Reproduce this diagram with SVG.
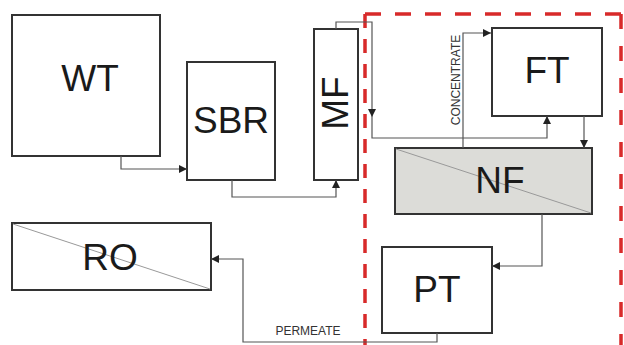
<svg xmlns="http://www.w3.org/2000/svg" width="624" height="345" viewBox="0 0 624 345">
<defs>
<marker id="ah" viewBox="0 0 10 10" refX="10" refY="5" markerWidth="8" markerHeight="8" markerUnits="userSpaceOnUse" orient="auto">
<path d="M0,0 L10,5 L0,10 z" fill="#222"/>
</marker>
<style>
.box{fill:#fff;stroke:#333;stroke-width:2}
.gray{fill:#dcdcd8;stroke:#333;stroke-width:2}
.diag{stroke:#999;stroke-width:1;fill:none}
.lbl{font-family:"Liberation Sans",Arial,sans-serif;fill:#1a1a1a;text-anchor:middle}
.big{font-size:37px}
.small{font-size:12px;fill:#333}
.conn{fill:none;stroke:#555;stroke-width:1.2}
.red{fill:none;stroke:#d82a2a;stroke-width:3.5}
</style>
</defs>
<rect width="624" height="345" fill="#fff"/>
<g id="boundary">
<path class="red" d="M365,14 H621" stroke-dasharray="16,14"/>
<path class="red" d="M365,14 V346" stroke-dasharray="14,11"/>
<path class="red" d="M621,14 V346" stroke-dasharray="15,17"/>
</g>
<g id="node-WT"><rect class="box" x="12" y="15" width="148" height="141"/><text class="lbl big" x="90" y="91" font-size="39">WT</text></g>
<g id="node-SBR"><rect class="box" x="187" y="62" width="88" height="118"/><text class="lbl big" x="231" y="133">SBR</text></g>
<g id="node-MF"><rect class="box" x="314" y="29" width="44" height="151"/><text class="lbl big" transform="translate(348,103) rotate(-90)" x="0" y="0">MF</text></g>
<g id="node-FT"><rect class="box" x="492" y="28" width="110" height="88"/><text class="lbl big" x="547" y="83">FT</text></g>
<g id="node-NF"><rect class="gray" x="395" y="148" width="197" height="66"/><line class="diag" x1="396" y1="149" x2="591" y2="213"/><text class="lbl big" x="500" y="193">NF</text></g>
<g id="node-PT"><rect class="box" x="382" y="247" width="110" height="86"/><text class="lbl big" x="437" y="302">PT</text></g>
<g id="node-RO"><rect class="box" x="12" y="223" width="199" height="67"/><line class="diag" x1="13" y1="224" x2="210" y2="289"/><text class="lbl big" x="110" y="270">RO</text></g>
<g id="connectors">
<path class="conn" d="M121,156 V169 H187" marker-end="url(#ah)"/>
<path class="conn" d="M232,180 V197 H336 V180" marker-end="url(#ah)"/>
<path class="conn" d="M336,29 V22 H372 V117" marker-end="url(#ah)"/>
<path class="conn" d="M372,117 V138 H547 V116" marker-end="url(#ah)"/>
<path class="conn" d="M463,148 V33 H491" marker-end="url(#ah)"/>
<path class="conn" d="M584,116 V148" marker-end="url(#ah)"/>
<path class="conn" d="M542,214 V266 H492" marker-end="url(#ah)"/>
<path class="conn" d="M437,333 V342 H243 V259 H211" marker-end="url(#ah)"/>
<text class="lbl small" transform="translate(460,80) rotate(-90)" x="0" y="0">CONCENTRATE</text>
<text class="lbl small" x="308" y="335">PERMEATE</text>
</g>
</svg>
